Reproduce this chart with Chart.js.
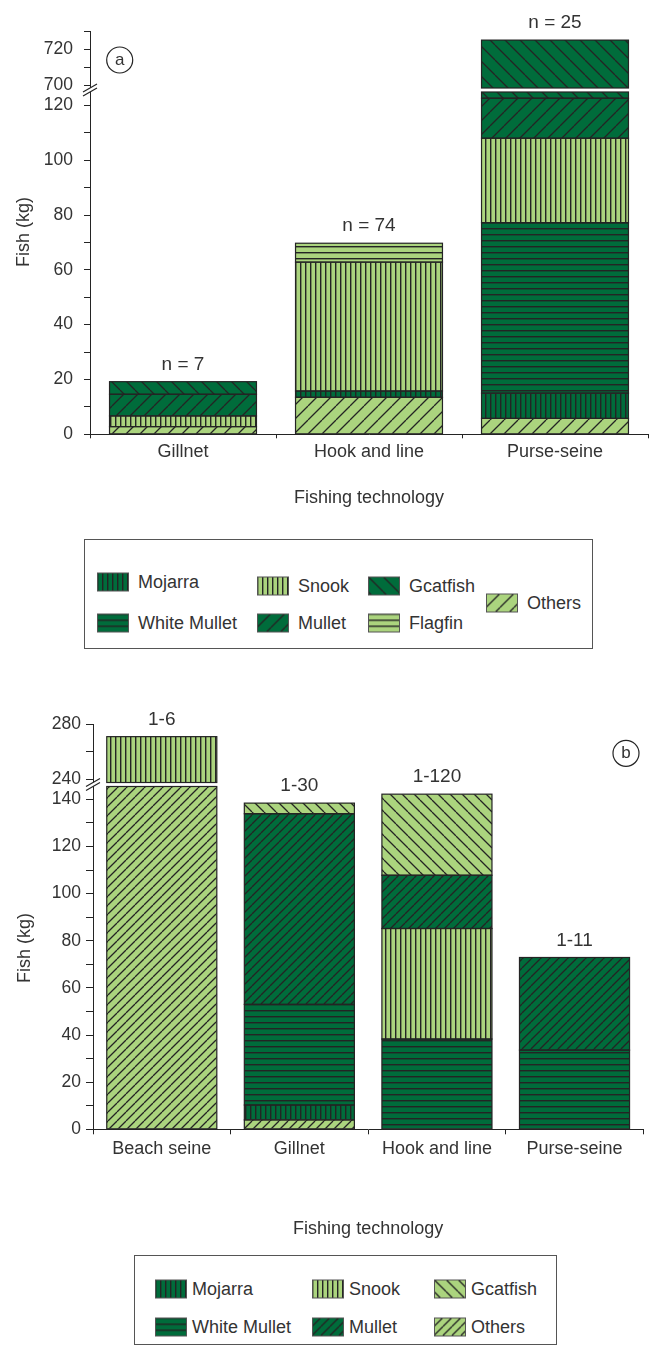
<!DOCTYPE html>
<html>
<head>
<meta charset="utf-8">
<title>Fish catch by fishing technology</title>
<script src="https://cdn.jsdelivr.net/npm/chart.js@4.4.1/dist/chart.umd.min.js"></script>
<style>
  body { margin: 0; background: #fff; }
  #page { position: relative; width: 651px; height: 1349px; font-family: "Liberation Sans", Arial, sans-serif; color: #333; }
  #page canvas.chart { position: absolute; left: 0; }
  .legend { position: absolute; border: 1px solid #555; box-sizing: border-box; }
  .legend .item { position: absolute; display: flex; align-items: center; font-size: 18px; white-space: nowrap; transform: translateY(-50%); }
  .legend .item canvas { display: block; width: 32px; height: 19px; }
</style>
</head>
<body>
<div id="page">
  <canvas id="chartA" class="chart" width="651" height="520" style="top:0"></canvas>
  <div id="legendA" class="legend" style="left:84px;top:539px;width:509px;height:110px"></div>
  <canvas id="chartB" class="chart" width="651" height="570" style="top:680px"></canvas>
  <div id="legendB" class="legend" style="left:134px;top:1255px;width:423px;height:90px"></div>
</div>
<script>
// panel (a)
var catsA = ['Gillnet', 'Hook and line', 'Purse-seine'];
var notesA = ['n = 7', 'n = 74', 'n = 25'];
var othersA      = [2.8, 13.5, 5.8];
var mojarraA     = [0, 2.3, 9.2];
var whiteMulletA = [0, 0, 62.2];
var snookA       = [3.9, 47.0, 30.8];
var mulletA      = [7.9, 0, 14.6];
var gcatfishA    = [4.6, 0, 602.4];
var flagfinA     = [0, 6.9, 0];
var lowTicksA   = [0, 10, 20, 30, 40, 50, 60, 70, 80, 90, 100, 110, 120];
var lowLabelsA  = [0, 20, 40, 60, 80, 100, 120];
var highTicksA  = [700, 710, 720, 730];
var highLabelsA = [700, 720];

// panel (b)
var catsB = ['Beach seine', 'Gillnet', 'Hook and line', 'Purse-seine'];
var notesB = ['1-6', '1-30', '1-120', '1-11'];
var othersB      = [226, 4.0, 0, 0];
var mojarraB     = [0, 6.3, 0, 0];
var whiteMulletB = [0, 42.7, 38.3, 33.6];
var snookB       = [45, 0, 46.9, 0];
var mulletB      = [0, 80.9, 22.6, 39.3];
var gcatfishB    = [0, 4.5, 34.4, 0];
var lowTicksB   = [0, 10, 20, 30, 40, 50, 60, 70, 80, 90, 100, 110, 120, 130, 140];
var lowLabelsB  = [0, 20, 40, 60, 80, 100, 120, 140];
var highTicksB  = [240, 260, 280];
var highLabelsB = [240, 280];

var DARK = '#006c3b', LIGHT = '#abd47e', INK = '#242424', TEXT = '#333';
var FONT = '"Liberation Sans", Arial, sans-serif';
var GAP = 2; // half of the white gap at the axis break

Chart.defaults.font.family = FONT;
Chart.defaults.color = TEXT;

// hatch fill: '|' vertical, '-' horizontal, '/' and '\' diagonals
function makePattern(bg, hatch, step) {
	var c = document.createElement('canvas');
	c.width = step; c.height = step;
	var g = c.getContext('2d');
	g.fillStyle = bg;
	g.fillRect(0, 0, step, step);
	g.fillStyle = INK;
	g.strokeStyle = INK;
	g.lineWidth = 1.3;
	if (hatch === '|') {
		g.fillRect(0, 0, 1.4, step);
	} else if (hatch === '-') {
		g.fillRect(0, 0, step, 1.4);
	} else {
		g.beginPath();
		[-step, 0, step].forEach(function (o) {
			if (hatch === '/') { g.moveTo(o, step); g.lineTo(o + step, 0); }
			else { g.moveTo(o, 0); g.lineTo(o + step, step); }
		});
		g.stroke();
	}
	return g.createPattern(c, 'repeat');
}

var seriesA = [
	{label: 'Others', data: othersA, bg: LIGHT, hatch: '/', step: 14},
	{label: 'Mojarra', data: mojarraA, bg: DARK, hatch: '|', step: 5},
	{label: 'White Mullet', data: whiteMulletA, bg: DARK, hatch: '-', step: 6},
	{label: 'Snook', data: snookA, bg: LIGHT, hatch: '|', step: 5},
	{label: 'Mullet', data: mulletA, bg: DARK, hatch: '/', step: 14},
	{label: 'Gcatfish', data: gcatfishA, bg: DARK, hatch: '\\', step: 15},
	{label: 'Flagfin', data: flagfinA, bg: LIGHT, hatch: '-', step: 6}
];

var seriesB = [
	{label: 'Others', data: othersB, bg: LIGHT, hatch: '/', step: 9},
	{label: 'Mojarra', data: mojarraB, bg: DARK, hatch: '|', step: 5},
	{label: 'White Mullet', data: whiteMulletB, bg: DARK, hatch: '-', step: 6},
	{label: 'Snook', data: snookB, bg: LIGHT, hatch: '|', step: 5},
	{label: 'Mullet', data: mulletB, bg: DARK, hatch: '/', step: 9},
	{label: 'Gcatfish', data: gcatfishB, bg: LIGHT, hatch: '\\', step: 12}
];

function buildPanel(id, p) {
	var datasets = [];
	p.series.forEach(function (s) {
		var fill = makePattern(s.bg, s.hatch, s.step);
		var values = s.data.map(function (v) { return v > 0 ? v : null; });
		['yLow', 'yHigh'].forEach(function (axis) {
			datasets.push({
				label: s.label,
				data: values,
				yAxisID: axis,
				stack: 'catch',
				grouped: false,
				backgroundColor: fill,
				borderWidth: 0,
				inflateAmount: 0,
				barPercentage: p.barPct,
				categoryPercentage: 1,
				clip: axis === 'yLow' ? {left: 0, right: 0, top: -GAP, bottom: 0} : {left: 0, right: 0, top: 0, bottom: -GAP}
			});
		});
	});

	function yAxis(r, order) {
		return {
			type: 'linear',
			position: 'left',
			stack: 'fish',
			stackWeight: r.weight,
			weight: order,
			stacked: true,
			min: r.min,
			max: r.max,
			afterBuildTicks: function (s) { s.ticks = r.ticks.map(function (v) { return {value: v}; }); },
			afterFit: function (s) { s.width = p.yWidth; },
			ticks: {
				autoSkip: false,
				padding: p.tickPad,
				color: TEXT,
				font: {size: 17.5},
				callback: function (v) { return r.labels.indexOf(v) >= 0 ? String(v) : ''; }
			},
			grid: {drawOnChartArea: false, tickLength: p.yTick, color: INK, lineWidth: 1},
			border: {color: INK, width: 1}
		};
	}

	var decor = {
		id: 'decor',
		afterDatasetsDraw: function (chart) {
			var ctx = chart.ctx, lo = chart.scales.yLow, hi = chart.scales.yHigh, x = chart.scales.x;
			ctx.save();
			ctx.strokeStyle = INK;
			ctx.lineWidth = 1.2;
			// outline every segment, cut to its own part of the broken axis
			chart.data.datasets.forEach(function (ds, i) {
				var low = ds.yAxisID === 'yLow';
				var rTop = low ? lo.top + GAP : hi.top;
				var rBot = low ? lo.bottom : hi.bottom - GAP;
				chart.getDatasetMeta(i).data.forEach(function (bar) {
					var top = Math.max(Math.min(bar.y, bar.base), rTop);
					var bot = Math.min(Math.max(bar.y, bar.base), rBot);
					if (bot - top <= 0.2) return;
					ctx.strokeRect(bar.x - bar.width / 2, top, bar.width, bot - top);
				});
			});
			ctx.fillStyle = TEXT;
			ctx.font = '19px ' + FONT;
			ctx.textAlign = 'center';
			ctx.textBaseline = 'middle';
			p.notes.forEach(function (note, i) {
				var total = p.series.reduce(function (sum, s) { return sum + s.data[i]; }, 0);
				var y = total > lo.max ? hi.getPixelForValue(total) : lo.getPixelForValue(total);
				ctx.fillText(note, x.getPixelForValue(i), y - 17);
			});
			ctx.restore();
		},
		afterDraw: function (chart) {
			var ctx = chart.ctx, lo = chart.scales.yLow;
			var ax = lo.right, cy = lo.top;
			ctx.save();
			// axis break marks
			ctx.fillStyle = '#fff';
			ctx.beginPath();
			ctx.moveTo(ax - 7, cy + 2); ctx.lineTo(ax + 7, cy - 6);
			ctx.lineTo(ax + 7, cy - 2); ctx.lineTo(ax - 7, cy + 6);
			ctx.closePath();
			ctx.fill();
			ctx.strokeStyle = INK;
			ctx.lineWidth = 1.2;
			ctx.beginPath();
			ctx.moveTo(ax - 7, cy + 2); ctx.lineTo(ax + 7, cy - 6);
			ctx.moveTo(ax - 7, cy + 6); ctx.lineTo(ax + 7, cy - 2);
			ctx.stroke();
			// panel letter
			ctx.beginPath();
			ctx.arc(p.tag[1], p.tag[2], 13, 0, Math.PI * 2);
			ctx.stroke();
			ctx.fillStyle = TEXT;
			ctx.font = '17px ' + FONT;
			ctx.textAlign = 'center';
			ctx.textBaseline = 'middle';
			ctx.fillText(p.tag[0], p.tag[1], p.tag[2]);
			// y axis title
			ctx.translate(p.yTitle[0], p.yTitle[1]);
			ctx.rotate(-Math.PI / 2);
			ctx.font = '18px ' + FONT;
			ctx.fillText('Fish (kg)', 0, 0);
			ctx.restore();
		}
	};

	return new Chart(document.getElementById(id), {
		type: 'bar',
		data: {labels: p.cats, datasets: datasets},
		options: {
			responsive: false,
			animation: false,
			events: [],
			devicePixelRatio: 1,
			layout: {padding: p.padding},
			plugins: {legend: {display: false}, tooltip: {enabled: false}},
			scales: {
				x: {
					type: 'category',
					stacked: true,
					offset: true,
					grid: {display: true, drawOnChartArea: false, offset: true, tickLength: p.xTick, color: INK, lineWidth: 1},
					border: {color: INK, width: 1},
					ticks: {padding: p.xPad, color: TEXT, font: {size: 18}, maxRotation: 0, autoSkip: false},
					title: {display: true, text: 'Fishing technology', color: TEXT, font: {size: 18}, padding: {top: 0, bottom: p.titlePad}},
					afterFit: function (s) { s.height = p.xHeight; }
				},
				yHigh: yAxis(p.high, 1),
				yLow: yAxis(p.low, 0)
			}
		},
		plugins: [decor]
	});
}

function buildLegend(id, series, spots, gap) {
	var box = document.getElementById(id);
	series.forEach(function (s) {
		var spot = spots[s.label];
		if (!spot) return;
		var item = document.createElement('div');
		item.className = 'item';
		item.style.left = spot[0] + 'px';
		item.style.top = spot[1] + 'px';
		var sw = document.createElement('canvas');
		sw.width = 32; sw.height = 19;
		var g = sw.getContext('2d');
		g.fillStyle = makePattern(s.bg, s.hatch, s.step);
		g.fillRect(0, 0, 32, 19);
		g.strokeStyle = '#555';
		g.lineWidth = 1;
		g.strokeRect(0.5, 0.5, 31, 18);
		var t = document.createElement('span');
		t.textContent = s.label;
		t.style.marginLeft = gap + 'px';
		item.appendChild(sw);
		item.appendChild(t);
		box.appendChild(item);
	});
}

buildPanel('chartA', {
	series: seriesA, cats: catsA, notes: notesA,
	padding: {top: 31, right: 3, bottom: 0, left: 0},
	yWidth: 90, tickPad: 11, yTick: 6, xTick: 4, xPad: 3, xHeight: 85.7, titlePad: 11, barPct: 0.79,
	low: {min: 0, max: 125.6, weight: 344.3, ticks: lowTicksA, labels: lowLabelsA},
	high: {min: 697.6, max: 730, weight: 59, ticks: highTicksA, labels: highLabelsA},
	yTitle: [24, 232], tag: ['a', 119.7, 60]
});

buildPanel('chartB', {
	series: seriesB, cats: catsB, notes: notesB,
	padding: {top: 44.3, right: 7.7, bottom: 0, left: 0},
	yWidth: 93, tickPad: 5, yTick: 7, xTick: 5, xPad: 4, xHeight: 120.7, titlePad: 10, barPct: 0.80,
	low: {min: 0, max: 146.3, weight: 344.8, ticks: lowTicksB, labels: lowLabelsB},
	high: {min: 236.1, max: 280, weight: 60.2, ticks: highTicksB, labels: highLabelsB},
	yTitle: [25, 268], tag: ['b', 626, 73.3]
});

buildLegend('legendA', seriesA, {
	'Mojarra': [12, 42], 'White Mullet': [12, 83],
	'Snook': [172, 46], 'Mullet': [172, 83],
	'Gcatfish': [283, 46], 'Flagfin': [283, 83],
	'Others': [401, 63]
}, 9);

buildLegend('legendB', seriesB, {
	'Mojarra': [20, 33], 'White Mullet': [20, 71],
	'Snook': [177, 33], 'Mullet': [177, 71],
	'Gcatfish': [299, 33], 'Others': [299, 71]
}, 5);
</script>
</body>
</html>
